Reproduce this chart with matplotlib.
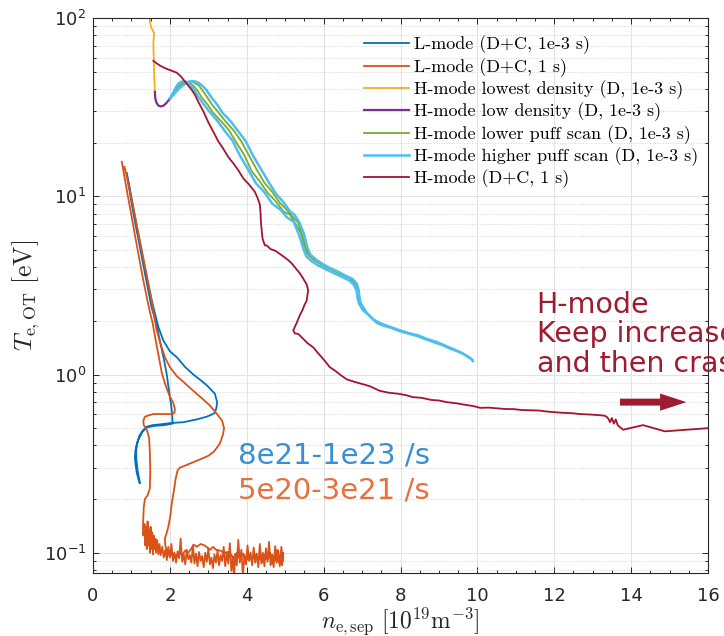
import matplotlib
matplotlib.use("Agg")
import matplotlib.pyplot as plt
from matplotlib.patches import FancyArrowPatch
from matplotlib.ticker import LogLocator, MultipleLocator, NullFormatter

plt.rcParams['font.family'] = ['DejaVu Sans']
plt.rcParams['mathtext.fontset'] = 'cm'

# ---------------- data: separatrix density vs. outer-target temperature ----------------
# L-mode (D+C, 1e-3 s)
lmode_fast_n = [0.88, 0.95, 1.05, 1.15, 1.25, 1.35, 1.45, 1.53, 1.60, 1.70, 1.83, 2.00, 2.18, 2.40,
                2.61, 2.80, 2.96, 3.10, 3.17, 3.23, 3.21, 3.17, 3.08, 2.96, 2.70, 2.35, 2.05, 1.74,
                1.55, 1.40, 1.32, 1.27, 1.20, 1.14, 1.10, 1.09, 1.11, 1.14, 1.18, 1.22,
                1.20, 1.16, 1.13, 1.12, 1.15, 1.20, 1.28, 1.40, 1.60, 1.85, 2.07, 2.06, 2.03,
                2.00, 1.96, 1.92, 1.85, 1.74, 1.64, 1.52, 1.42, 1.32, 1.22, 1.12, 1.02, 0.95, 0.90]
lmode_fast_T = [13.5, 11.3, 8.6, 6.6, 5.1, 3.95, 3.05, 2.6, 2.25, 1.85, 1.55, 1.35, 1.25, 1.1,
                1.0, 0.93, 0.87, 0.81, 0.78, 0.70, 0.65, 0.61, 0.595, 0.58, 0.56, 0.54, 0.535, 0.525,
                0.52, 0.51, 0.49, 0.47, 0.44, 0.41, 0.37, 0.34, 0.31, 0.28, 0.26, 0.245,
                0.26, 0.29, 0.33, 0.37, 0.41, 0.45, 0.48, 0.505, 0.515, 0.52, 0.53, 0.60, 0.68,
                0.75, 0.86, 1.0, 1.2, 1.55, 1.95, 2.4, 3.1, 4.0, 5.2, 6.7, 8.7, 10.8, 12.4]

# L-mode (D+C, 1 s)
lmode_slow_n = [0.75, 0.82, 0.90, 1.00, 1.10, 1.20, 1.30, 1.40, 1.48, 1.55, 1.62, 1.70, 1.79, 1.88,
                1.98, 2.09, 2.13, 2.12, 2.05, 1.80, 1.57, 1.45, 1.35, 1.31, 1.32, 1.40, 1.46, 1.48,
                1.49, 1.48, 1.42, 1.35, 1.32, 1.31, 1.30, 1.31,
                1.34, 1.36, 1.38, 1.40, 1.42, 1.44, 1.46, 1.48, 1.50, 1.52, 1.54, 1.56, 1.58, 1.60,
                1.62, 1.64, 1.67, 1.70, 1.73, 1.76, 1.80, 1.84,
                1.88, 1.92, 1.96, 2.00, 2.04, 2.08, 2.12, 2.16, 2.20, 2.24, 2.28, 2.32, 2.36, 2.40,
                2.44, 2.48, 2.52, 2.56, 2.60, 2.64, 2.68, 2.72, 2.76, 2.80, 2.84, 2.88, 2.92, 2.96,
                3.00, 3.04, 3.08, 3.12, 3.16, 3.20, 3.24, 3.28, 3.32, 3.36, 3.40, 3.44, 3.48, 3.52,
                3.56, 3.60, 3.64, 3.67, 3.70, 3.74, 3.78, 3.82, 3.86, 3.90, 3.94, 3.98, 4.02, 4.06,
                4.10, 4.14, 4.18, 4.22, 4.26, 4.30, 4.34, 4.38, 4.42, 4.46, 4.50, 4.54, 4.58, 4.62,
                4.66, 4.70, 4.74, 4.78, 4.82, 4.86, 4.90, 4.94,
                4.95, 4.92, 4.88, 4.84, 4.80, 4.76, 4.72, 4.66, 4.60, 4.54, 4.48, 4.42, 4.36, 4.30,
                4.22, 4.14, 4.06, 3.98, 3.90, 3.82, 3.74, 3.66, 3.58, 3.50, 3.40, 3.30, 3.20, 3.12,
                3.05, 2.98, 2.90, 2.80, 2.70, 2.62, 2.55, 2.48, 2.40, 2.32, 2.24, 2.16, 2.08, 2.00,
                1.94, 1.88,
                1.87, 1.92, 1.96, 2.01, 2.05, 2.10, 2.15, 2.20, 2.26, 2.50, 2.80, 3.00, 3.15, 3.30,
                3.38, 3.41, 3.36, 3.20, 3.04, 2.85, 2.61, 2.40, 2.18, 2.00, 1.87, 1.75, 1.65, 1.58,
                1.50, 1.40, 1.30, 1.20, 1.10, 1.00, 0.90, 0.82]
lmode_slow_T = [15.6, 12.8, 10.2, 7.8, 5.9, 4.5, 3.45, 2.7, 2.25, 1.95, 1.6, 1.3, 1.02, 0.88,
                0.77, 0.69, 0.64, 0.61, 0.60, 0.60, 0.60, 0.59, 0.58, 0.55, 0.52, 0.49, 0.44, 0.36,
                0.29, 0.23, 0.21, 0.20, 0.18, 0.16, 0.14, 0.125,
                0.145, 0.11, 0.14, 0.105, 0.15, 0.11, 0.135, 0.10, 0.14, 0.105, 0.13, 0.098, 0.125, 0.105,
                0.12, 0.10, 0.118, 0.098, 0.112, 0.097, 0.108, 0.094,
                0.104, 0.091, 0.108, 0.094, 0.112, 0.090, 0.100, 0.088, 0.102, 0.093, 0.120, 0.089, 0.098, 0.086,
                0.104, 0.092, 0.097, 0.088, 0.110, 0.087, 0.099, 0.084, 0.101, 0.090, 0.096, 0.083, 0.100, 0.089,
                0.105, 0.086, 0.094, 0.082, 0.098, 0.088, 0.103, 0.085, 0.097, 0.090, 0.108, 0.084, 0.100, 0.087,
                0.113, 0.079, 0.095, 0.072, 0.098, 0.085, 0.118, 0.088, 0.104, 0.074, 0.097, 0.086, 0.110, 0.090,
                0.100, 0.085, 0.107, 0.088, 0.099, 0.083, 0.112, 0.087, 0.100, 0.084, 0.106, 0.089, 0.115, 0.085,
                0.098, 0.083, 0.109, 0.088, 0.102, 0.084, 0.108, 0.090,
                0.100, 0.085, 0.097, 0.088, 0.104, 0.090, 0.096, 0.087, 0.100, 0.092, 0.098, 0.089, 0.095, 0.091,
                0.097, 0.092, 0.096, 0.090, 0.099, 0.093, 0.100, 0.094, 0.098, 0.101, 0.100, 0.103, 0.104, 0.108,
                0.104, 0.107, 0.110, 0.112, 0.108, 0.111, 0.105, 0.100, 0.103, 0.097, 0.100, 0.095, 0.099, 0.096,
                0.100, 0.110,
                0.12, 0.13, 0.14, 0.16, 0.19, 0.22, 0.26, 0.29, 0.30, 0.315, 0.335, 0.35, 0.37, 0.41,
                0.46, 0.50, 0.55, 0.61, 0.67, 0.73, 0.81, 0.89, 0.98, 1.1, 1.25, 1.5, 1.8, 2.2,
                2.8, 3.6, 4.6, 5.9, 7.6, 9.7, 12.3, 14.6]

# H-mode lowest density (D, 1e-3 s)
hmode_lowest_n = [1.46, 1.48, 1.51, 1.55, 1.59, 1.57, 1.58, 1.59, 1.60, 1.61]
hmode_lowest_T = [110.0, 95.0, 89.0, 85.6, 82.0, 72.0, 60.0, 50.0, 43.0, 38.5]

# H-mode low density (D, 1e-3 s)
hmode_low_n = [1.61, 1.62, 1.65, 1.70, 1.76, 1.83, 1.90, 1.97, 2.02]
hmode_low_T = [38.5, 35.5, 33.5, 32.3, 31.9, 32.2, 33.2, 34.6, 35.6]

# H-mode lower puff scan (D, 1e-3 s), two discharges
hmode_lower_a_n = [2.00, 2.09, 2.17, 2.26, 2.35, 2.44, 2.53, 2.63, 2.73, 2.83, 2.98, 3.13, 3.33, 3.53,
                   3.73, 3.93, 4.13, 4.34, 4.55, 4.75, 4.96, 5.12, 5.27, 5.41, 5.50, 5.58, 5.73, 5.88,
                   6.08, 6.28, 6.48, 6.68, 6.80, 6.87, 6.89, 6.92]
hmode_lower_a_T = [35.4, 37.5, 40.1, 42.0, 43.5, 43.8, 43.1, 41.3, 38.8, 35.8, 32.7, 29.3, 26.4, 23.6,
                   20.0, 17.1, 13.8, 12.1, 10.4, 9.4, 8.2, 7.9, 7.0, 6.2, 5.25, 4.75, 4.45, 4.22,
                   4.0, 3.82, 3.6, 3.47, 3.27, 3.02, 2.78, 2.55]
hmode_lower_b_n = [2.00, 2.11, 2.23, 2.34, 2.45, 2.56, 2.66, 2.76, 2.86, 2.96, 3.11, 3.26, 3.46, 3.66,
                   3.86, 4.06, 4.26, 4.46, 4.66, 4.86, 5.05, 5.19, 5.33, 5.45, 5.54, 5.62, 5.77, 5.92,
                   6.12, 6.32, 6.52, 6.72, 6.84, 6.89, 6.91, 6.95]
hmode_lower_b_T = [35.4, 37.3, 40.3, 42.5, 43.6, 44.1, 43.0, 41.7, 38.9, 36.2, 32.4, 29.6, 26.1, 23.4,
                   20.3, 16.9, 14.1, 11.9, 10.6, 9.2, 8.35, 7.7, 7.15, 6.0, 5.15, 4.65, 4.35, 4.18,
                   3.95, 3.78, 3.64, 3.43, 3.22, 2.98, 2.72, 2.58]

# H-mode higher puff scan (D, 1e-3 s), two discharges
hmode_higher_a_n = [2.00, 2.08, 2.15, 2.22, 2.30, 2.38, 2.46, 2.55, 2.64, 2.73, 2.88, 3.03, 3.23, 3.43,
                    3.63, 3.83, 4.03, 4.24, 4.45, 4.66, 4.88, 5.05, 5.22, 5.37, 5.47, 5.55, 5.70, 5.85,
                    6.05, 6.25, 6.45, 6.66, 6.79, 6.86, 6.88, 6.92, 7.02, 7.15, 7.30, 7.50, 7.70, 7.95,
                    8.20, 8.45, 8.70, 8.95, 9.20, 9.40, 9.60, 9.80, 9.86]
hmode_higher_a_T = [35.4, 37.9, 40.6, 42.8, 43.9, 44.2, 43.5, 41.8, 39.3, 36.4, 32.8, 29.8, 26.6, 23.2,
                    20.5, 16.8, 14.2, 11.8, 10.6, 9.1, 8.4, 7.6, 7.2, 6.0, 5.1, 4.6, 4.3, 4.1,
                    3.9, 3.72, 3.55, 3.38, 3.18, 2.95, 2.7, 2.5, 2.3, 2.18, 2.03, 1.93, 1.86, 1.78,
                    1.71, 1.66, 1.58, 1.52, 1.44, 1.38, 1.32, 1.24, 1.21]
hmode_higher_b_n = [2.00, 2.12, 2.25, 2.38, 2.50, 2.62, 2.74, 2.85, 2.96, 3.07, 3.22, 3.37, 3.57, 3.77,
                    3.97, 4.17, 4.37, 4.56, 4.75, 4.94, 5.12, 5.25, 5.38, 5.49, 5.57, 5.65, 5.80, 5.95,
                    6.15, 6.35, 6.55, 6.75, 6.86, 6.91, 6.93, 6.96, 7.05, 7.12, 7.25, 7.38, 7.55, 7.75,
                    7.98, 8.20, 8.45, 8.68, 8.90, 9.10, 9.28, 9.45, 9.62, 9.75, 9.85, 9.88]
hmode_higher_b_T = [35.4, 37.7, 40.4, 42.6, 44.0, 44.3, 43.4, 41.6, 39.2, 36.1, 32.9, 29.4, 26.5, 23.3,
                    20.4, 16.8, 14.2, 12.1, 10.4, 9.35, 8.25, 7.85, 7.05, 6.15, 5.2, 4.72, 4.42, 4.2,
                    3.97, 3.8, 3.6, 3.44, 3.24, 2.98, 2.74, 2.52, 2.35, 2.22, 2.08, 1.95, 1.88, 1.83,
                    1.75, 1.70, 1.64, 1.57, 1.51, 1.46, 1.40, 1.36, 1.31, 1.26, 1.22, 1.19]

# H-mode (D+C, 1 s)
hmode_dc_n = [1.57, 1.65, 1.75, 1.85, 1.95, 2.05, 2.18, 2.28, 2.36, 2.45, 2.55, 2.65, 2.75, 2.87,
              3.00, 3.13, 3.25, 3.38, 3.52, 3.65, 3.78, 3.91, 4.05, 4.15, 4.21, 4.28, 4.34, 4.36,
              4.37, 4.39, 4.41, 4.47, 4.52, 4.62, 4.74, 4.86, 4.98, 5.08, 5.17, 5.27, 5.38, 5.47,
              5.56, 5.60, 5.58, 5.56, 5.50, 5.45, 5.38, 5.30, 5.21, 5.25, 5.34, 5.45, 5.58, 5.73,
              5.88, 6.02, 6.16, 6.30, 6.45, 6.60, 6.80, 7.00, 7.20, 7.46, 7.70, 7.95, 8.15, 8.33,
              8.55, 8.80, 9.00, 9.20, 9.45, 9.70, 9.90, 10.07, 10.30, 10.55, 10.75, 10.93, 11.15,
              11.40, 11.60, 11.80, 12.00, 12.20, 12.45, 12.67, 12.90, 13.10, 13.30, 13.36, 13.42,
              13.45, 13.50, 13.55, 13.60, 13.65, 13.79, 14.31, 14.88, 16.00]
hmode_dc_T = [57.5, 55.8, 54.0, 52.6, 51.5, 50.6, 49.3, 47.2, 44.9, 42.5, 40.0, 37.2, 33.5, 30.0,
              26.0, 23.0, 20.5, 18.6, 16.6, 15.3, 14.0, 12.6, 11.7, 11.0, 10.6, 9.8, 9.0, 8.0,
              7.1, 6.4, 5.8, 5.3, 5.3, 5.05, 4.95, 4.75, 4.55, 4.38, 4.2, 3.95, 3.7, 3.45,
              3.2, 2.95, 2.8, 2.6, 2.45, 2.3, 2.15, 1.95, 1.77, 1.70, 1.69, 1.60, 1.50, 1.42,
              1.30, 1.20, 1.10, 1.05, 0.99, 0.94, 0.91, 0.885, 0.86, 0.81, 0.79, 0.78, 0.765, 0.746,
              0.74, 0.72, 0.715, 0.70, 0.69, 0.675, 0.665, 0.65, 0.652, 0.645, 0.64, 0.64, 0.632,
              0.63, 0.628, 0.62, 0.615, 0.61, 0.607, 0.60, 0.597, 0.593, 0.588, 0.58, 0.56,
              0.54, 0.57, 0.53, 0.56, 0.52, 0.49, 0.52, 0.48, 0.50]

labels = ["L-mode (D+C, 1e-3 s)", "L-mode (D+C, 1 s)", "H-mode lowest density (D, 1e-3 s)",
          "H-mode low density (D, 1e-3 s)", "H-mode lower puff scan (D, 1e-3 s)",
          "H-mode higher puff scan (D, 1e-3 s)", "H-mode (D+C, 1 s)"]
colors = ["#0072BD", "#D95319", "#EDB120", "#7E2F8E", "#77AC30", "#4DBEEE", "#A2142F"]

x_ticks = [0, 2, 4, 6, 8, 10, 12, 14, 16]

# ---------------- figure ----------------
fig = plt.figure(figsize=(7.24, 6.36), dpi=100)
ax = fig.add_axes([93 / 724, 1 - 573 / 636, 615 / 724, 555 / 636])

lw = 1.3
h1, = ax.plot(lmode_fast_n, lmode_fast_T, color=colors[0], lw=lw)
h2, = ax.plot(lmode_slow_n, lmode_slow_T, color=colors[1], lw=lw)
h3, = ax.plot(hmode_lowest_n, hmode_lowest_T, color=colors[2], lw=lw)
h4, = ax.plot(hmode_low_n, hmode_low_T, color=colors[3], lw=lw + 0.3)
h5, = ax.plot(hmode_lower_a_n, hmode_lower_a_T, color=colors[4], lw=lw)
ax.plot(hmode_lower_b_n, hmode_lower_b_T, color=colors[4], lw=lw)
h6, = ax.plot(hmode_higher_a_n, hmode_higher_a_T, color=colors[5], lw=lw + 0.5)
ax.plot(hmode_higher_b_n, hmode_higher_b_T, color=colors[5], lw=lw + 0.5)
h7, = ax.plot(hmode_dc_n, hmode_dc_T, color=colors[6], lw=lw)

ax.set_yscale('log')
ax.set_xlim(0, 16)
ax.set_ylim(0.077, 100)
ax.set_xticks(x_ticks)
ax.xaxis.set_minor_locator(MultipleLocator(0.5))
ax.yaxis.set_minor_locator(LogLocator(base=10, subs=range(2, 10), numticks=20))
ax.yaxis.set_minor_formatter(NullFormatter())

dark = '#262626'
ax.tick_params(which='both', direction='in', top=True, right=True, colors=dark, width=0.7)
ax.tick_params(which='major', length=4, labelsize=13)
ax.tick_params(which='minor', length=2.5)
ax.tick_params(axis='x', which='major', pad=10)
ax.tick_params(axis='y', which='major', pad=5)
for sp in ax.spines.values():
    sp.set_color(dark)
    sp.set_linewidth(0.8)

ax.set_axisbelow(True)
ax.grid(which='major', color='#e2e2e2', lw=0.7, ls='-')
ax.yaxis.grid(which='minor', color='#d4d4d4', lw=0.7, ls=':')

ax.set_xlabel(r'$n_{\mathrm{e,sep}}\ [10^{19}\mathrm{m}^{-3}]$', fontsize=17, color=dark, labelpad=0)
ax.set_ylabel(r'$T_{\mathrm{e,OT}}\ [\mathrm{eV}]$', fontsize=18.5, color=dark, labelpad=1)

leg = ax.legend([h1, h2, h3, h4, h5, h6, h7], labels, loc='upper right',
                bbox_to_anchor=(1.0, 0.986), frameon=False,
                prop={'family': 'cmr10', 'size': 13}, handlelength=2.5,
                handletextpad=0.25, labelspacing=0.2, borderaxespad=0.15)

ax.text(3.77, 0.35, "8e21-1e23 /s", color='#3A8FD4', fontsize=21, ha='left', va='center')
ax.text(3.77, 0.223, "5e20-3e21 /s", color='#E8703A', fontsize=21, ha='left', va='center')

ax.text(11.54, 2.95, "H-mode\nKeep increase\nand then crash", color='#9E1B32', fontsize=20.5,
        ha='left', va='top', linespacing=1.07, clip_on=False)

arrow = FancyArrowPatch((13.71, 0.70), (15.44, 0.70),
                        arrowstyle='simple,head_length=0.95,head_width=0.62,tail_width=0.25',
                        mutation_scale=20, color='#9E1B32', shrinkA=0, shrinkB=0, lw=0)
ax.add_patch(arrow)

fig.savefig('out.png', dpi=100)
